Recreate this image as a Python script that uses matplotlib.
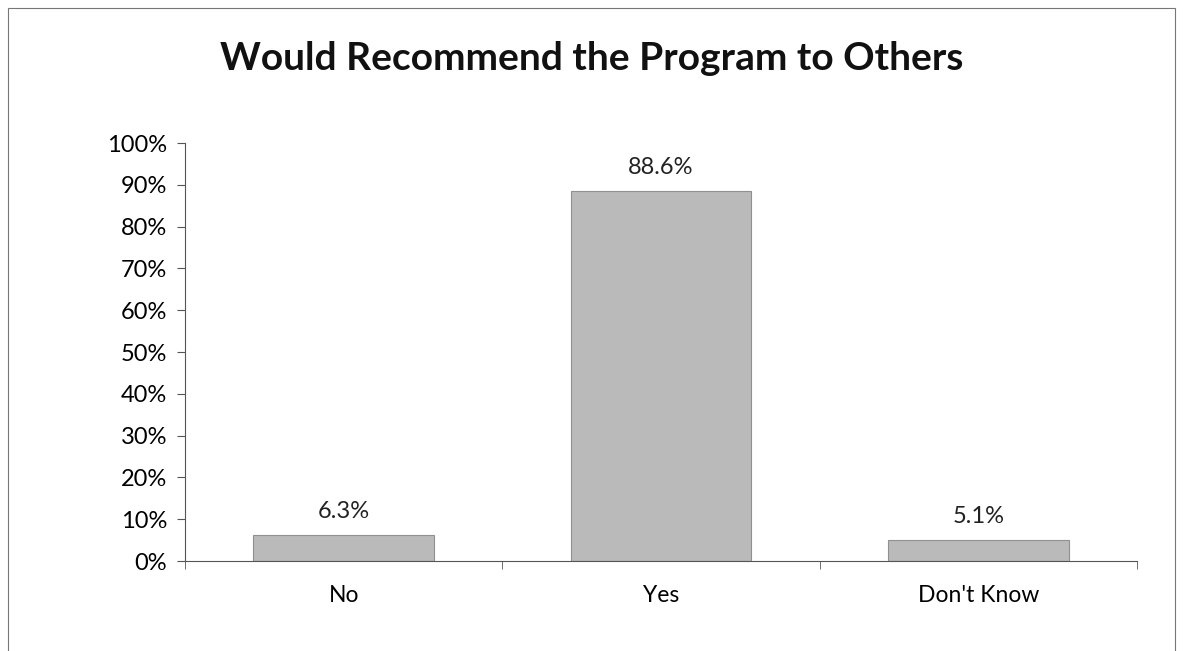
import numpy as np
import matplotlib.pyplot as plt
from matplotlib.patches import Rectangle

categories = ['No', 'Yes', "Don't Know"]
values = [6.3, 88.6, 5.1]
labels = ['6.3%', '88.6%', '5.1%']
yticks = [0, 10, 20, 30, 40, 50, 60, 70, 80, 90, 100]

plt.rcParams['font.family'] = ['Lato', 'DejaVu Sans']

fig = plt.figure(figsize=(11.84, 6.51), dpi=100)
ax = fig.add_axes([0.1563, 0.1382, 0.804, 0.642])

x = np.arange(len(categories))
ax.bar(x, values, width=0.57, color='#bababa', edgecolor='#909090', linewidth=0.8)

for xi, v, lab in zip(x, values, labels):
    ax.annotate(lab, (xi, v), xytext=(0, 9), textcoords='offset points',
                ha='center', va='bottom', fontsize=17, color='#222222')

ax.set_xlim(-0.5, 2.5)
ax.set_ylim(0, 100)
ax.set_yticks(yticks)
ax.set_yticklabels([f'{t}%' for t in yticks], fontsize=17)
ax.set_xticks(x)
ax.set_xticklabels(categories, fontsize=16.5)
ax.tick_params(axis='x', length=0, pad=17)
ax.set_xticks([-0.5, 0.5, 1.5, 2.5], minor=True)
ax.tick_params(axis='x', which='minor', length=6, color='#555555', direction='out')
ax.tick_params(axis='y', length=6, color='#555555', direction='out', pad=7)

for s in ['top', 'right']:
    ax.spines[s].set_visible(False)
for s in ['left', 'bottom']:
    ax.spines[s].set_color('#555555')
    ax.spines[s].set_linewidth(0.8)

fig.text(0.5, 0.91, 'Would Recommend the Program to Others', ha='center', va='center',
         fontsize=28, fontweight='bold', color='#111111')

fig.patches.append(Rectangle((8 / 1184, -0.01), 1167 / 1184, 1 - 8 / 651 + 0.01,
                             transform=fig.transFigure, fill=False,
                             edgecolor='#777777', linewidth=0.8))

fig.savefig('out.png', dpi=100)
